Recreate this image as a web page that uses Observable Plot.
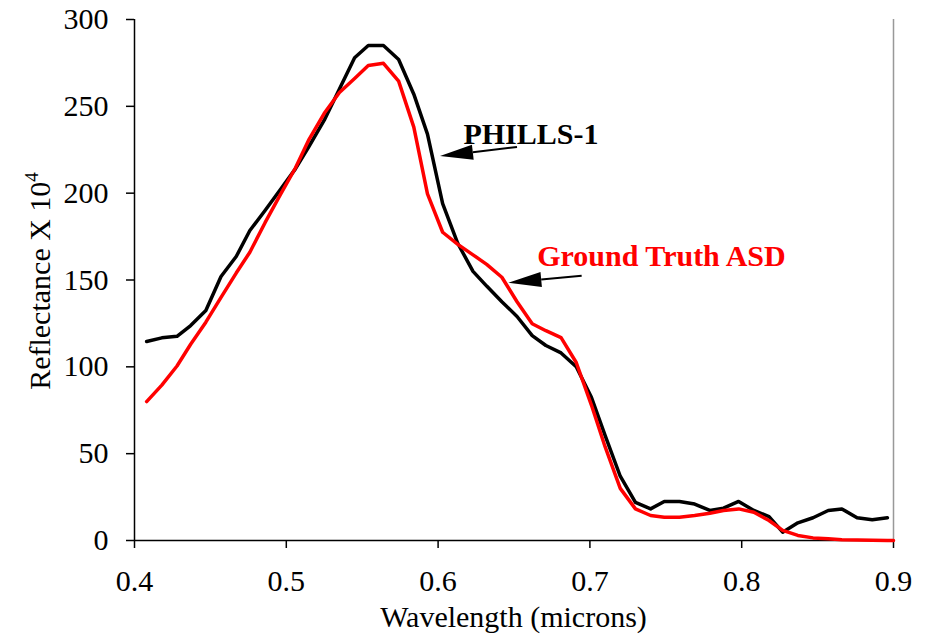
<!DOCTYPE html>
<html>
<head>
<meta charset="utf-8">
<script src="https://cdn.jsdelivr.net/npm/d3@7"></script>
<script src="https://cdn.jsdelivr.net/npm/@observablehq/plot@0.6"></script>
<style>
  html, body { margin: 0; padding: 0; background: #fff; }
  #chart svg { display: block; }
</style>
</head>
<body>
<div id="chart"></div>
<script>
// Wavelength samples (microns)
const wavelengths = [
  0.408, 0.418, 0.428, 0.437, 0.447, 0.457, 0.467, 0.476, 0.486, 0.496,
  0.506, 0.515, 0.525, 0.535, 0.545, 0.554, 0.564, 0.574, 0.584, 0.593,
  0.603, 0.613, 0.623, 0.632, 0.642, 0.652, 0.662, 0.671, 0.681, 0.691,
  0.701, 0.710, 0.720, 0.730, 0.740, 0.749, 0.759, 0.769, 0.779, 0.788,
  0.798, 0.808, 0.818, 0.827, 0.837, 0.847, 0.857, 0.866, 0.876, 0.886,
  0.896
];
// PHILLS-1 reflectance x 10^4
const phills = [
  114.6, 116.7, 117.6, 123.8, 132.4, 152.0, 163.5, 178.5, 190.0, 202.0,
  214.0, 227.0, 242.0, 260.0, 278.0, 285.0, 285.0, 277.0, 257.0, 234.0,
  194.0, 171.0, 155.0, 146.5, 137.5, 129.0, 118.0, 112.3, 108.0, 100.0,
  82.5, 60.5, 37.0, 22.0, 18.2, 22.5, 22.5, 21.0, 17.3, 18.6,
  22.5, 17.3, 13.8, 4.8, 10.2, 13.1, 17.3, 18.2, 13.1, 11.9,
  13.1
];
// Ground Truth ASD wavelengths and reflectance x 10^4
const asdWavelengths = [
  0.408, 0.418, 0.428, 0.437, 0.447, 0.457, 0.467, 0.476, 0.486, 0.496,
  0.506, 0.515, 0.525, 0.535, 0.545, 0.554, 0.564, 0.574, 0.584, 0.593,
  0.603, 0.613, 0.623, 0.632, 0.642, 0.652, 0.662, 0.671, 0.681, 0.691,
  0.701, 0.710, 0.720, 0.730, 0.740, 0.749, 0.759, 0.769, 0.779, 0.788,
  0.798, 0.808, 0.818, 0.827, 0.837, 0.847, 0.857, 0.866, 0.876, 0.886,
  0.896, 0.900
];
const asd = [
  80.0, 89.5, 100.5, 113.0, 125.7, 140.0, 154.0, 166.0, 183.0, 199.0,
  214.5, 231.0, 246.0, 258.0, 266.0, 273.5, 274.8, 264.5, 238.0, 199.6,
  177.5, 170.5, 164.5, 159.0, 151.6, 137.5, 124.8, 120.8, 116.8, 102.5,
  78.0, 54.0, 30.0, 18.2, 14.4, 13.4, 13.4, 14.4, 15.7, 17.3,
  18.2, 16.3, 11.5, 5.8, 2.9, 1.5, 1.0, 0.5, 0.3, 0.1,
  0.0, 0.0
];

const xTicks = [0.4, 0.5, 0.6, 0.7, 0.8, 0.9];
const yTicks = [0, 50, 100, 150, 200, 250, 300];

const xLabel = "Wavelength (microns)";
const yLabel = "Reflectance X 10";
const yLabelSup = "4";

// Annotations (data units)
const labelNames = ["PHILLS-1", "Ground Truth ASD"];
const labelX = [0.6167, 0.6653];
const labelY = [233.8, 163.5];
const labelColors = ["#000000", "#ff0000"];

const arrowTailX = [0.6523, 0.6949];
const arrowTailY = [226.3, 152.2];
const arrowTipX = [0.6016, 0.6466];
const arrowTipY = [221.1, 148.2];

const phillsData = wavelengths.map((w, i) => ({w, v: phills[i]}));
const asdData = asdWavelengths.map((w, i) => ({w, v: asd[i]}));
const labelData = labelNames.map((t, i) => ({t, x: labelX[i], y: labelY[i], c: labelColors[i]}));
const arrowData = arrowTailX.map((x1, i) => ({x1, y1: arrowTailY[i], x2: arrowTipX[i], y2: arrowTipY[i]}));

function arrowMark(index, scales) {
  const g = d3.create("svg:g");
  for (const a of arrowData) {
    const x1 = scales.x(a.x1), y1 = scales.y(a.y1);
    const x2 = scales.x(a.x2), y2 = scales.y(a.y2);
    const dx = x2 - x1, dy = y2 - y1, len = Math.hypot(dx, dy);
    const ux = dx / len, uy = dy / len;
    const hl = 33, hw = 7.5;
    const bx = x2 - ux * hl, by = y2 - uy * hl;
    g.append("line")
      .attr("x1", x1).attr("y1", y1).attr("x2", bx).attr("y2", by)
      .attr("stroke", "#000").attr("stroke-width", 2);
    g.append("path")
      .attr("d", `M${x2},${y2}L${bx - uy * hw},${by + ux * hw}L${bx + uy * hw},${by - ux * hw}Z`)
      .attr("fill", "#000");
  }
  return g.node();
}

const W = 926, H = 634;
const chart = Plot.plot({
  width: W,
  height: H,
  marginLeft: 134,
  marginRight: 33,
  marginTop: 19,
  marginBottom: 94,
  style: {fontFamily: "'Liberation Serif', 'Times New Roman', serif", fontSize: "30px", background: "#fff", color: "#000"},
  x: {domain: [0.4, 0.9]},
  y: {domain: [0, 300]},
  marks: [
    Plot.ruleX([0.9], {stroke: "#999", strokeWidth: 1.5}),
    Plot.axisX({ticks: xTicks, tickSize: 8, tickPadding: 21, tickFormat: d => d.toFixed(1), label: null, strokeWidth: 1.5}),
    Plot.axisY({ticks: yTicks, tickSize: 8, tickPadding: 18, tickFormat: d => String(d), label: null, strokeWidth: 1.5}),
    Plot.ruleX([0.4], {stroke: "#000", strokeWidth: 1.5}),
    Plot.ruleY([0], {stroke: "#000", strokeWidth: 1.5}),
    Plot.line(phillsData, {x: "w", y: "v", stroke: "#000", strokeWidth: 3.5}),
    Plot.line(asdData, {x: "w", y: "v", stroke: "#ff0000", strokeWidth: 3.5}),
    Plot.text(labelData.filter(d => d.c === "#000000"), {x: "x", y: "y", text: "t", fill: "#000000", textAnchor: "start", fontSize: 30, fontWeight: "bold"}),
    Plot.text(labelData.filter(d => d.c === "#ff0000"), {x: "x", y: "y", text: "t", fill: "#ff0000", textAnchor: "start", fontSize: 30, fontWeight: "bold"}),
    arrowMark
  ]
});

const svg = d3.select(chart);
svg.append("text")
  .attr("x", (134 + (W - 33)) / 2)
  .attr("y", 627)
  .attr("text-anchor", "middle")
  .attr("fill", "#000")
  .style("font-size", "30px")
  .text(xLabel);

const yl = svg.append("text")
  .attr("transform", `translate(50,281) rotate(-90)`)
  .attr("text-anchor", "middle")
  .attr("fill", "#000")
  .style("font-size", "30px");
yl.append("tspan").text(yLabel);
yl.append("tspan").attr("dy", "-12").style("font-size", "19px").text(yLabelSup);

document.getElementById("chart").appendChild(chart);
</script>
</body>
</html>
